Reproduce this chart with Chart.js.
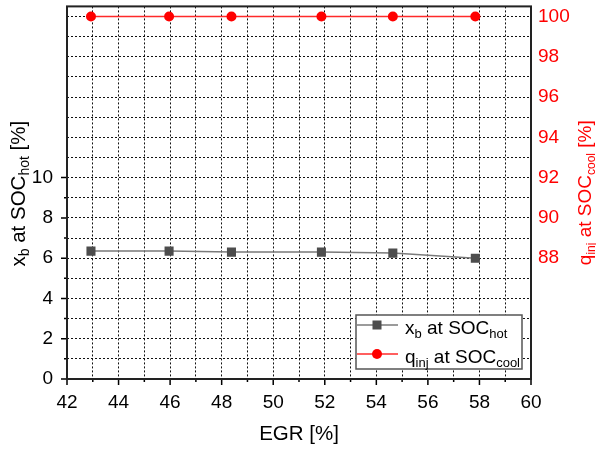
<!DOCTYPE html>
<html>
<head>
<meta charset="utf-8">
<script src="https://cdn.jsdelivr.net/npm/chart.js@4.4.0/dist/chart.umd.min.js"></script>
<style>
  html, body { margin: 0; padding: 0; background: #fff; }
</style>
</head>
<body>
<canvas id="chart" width="596" height="452"></canvas>
<script>
// EGR sweep
const egr = [42.93, 45.96, 48.38, 51.87, 54.64, 57.84];
const xbHot = [6.35, 6.35, 6.3, 6.3, 6.25, 6.0];
const qinjCool = [100, 100, 100, 100, 100, 100];

const xTickLabels = [42, 44, 46, 48, 50, 52, 54, 56, 58, 60];
const leftTickLabels = [0, 2, 4, 6, 8, 10];
const rightTickLabels = [88, 90, 92, 94, 96, 98, 100];

const sans = '"Liberation Sans", Arial, sans-serif';
const RED = '#ff0000';

// text with subscripts: [{t, sub}]
function richWidth(ctx, parts, size, subSize) {
  let w = 0;
  parts.forEach(p => {
    ctx.font = (p.sub ? subSize : size) + 'px ' + sans;
    w += ctx.measureText(p.t).width;
  });
  return w;
}
function drawRich(ctx, parts, x, y, size, subSize) {
  parts.forEach(p => {
    ctx.font = (p.sub ? subSize : size) + 'px ' + sans;
    ctx.fillText(p.t, x, p.sub ? y + 4 : y);
    x += ctx.measureText(p.t).width;
  });
}

const leftTitle = [{t: 'x'}, {t: 'b', sub: true}, {t: ' at SOC'}, {t: 'hot', sub: true}, {t: ' [%]'}];
const rightTitle = [{t: 'q'}, {t: 'inj', sub: true}, {t: ' at SOC'}, {t: 'cool', sub: true}, {t: ' [%]'}];
const legendRows = [
  [{t: 'x'}, {t: 'b', sub: true}, {t: ' at SOC'}, {t: 'hot', sub: true}],
  [{t: 'q'}, {t: 'inj', sub: true}, {t: ' at SOC'}, {t: 'cool', sub: true}]
];

// fixed axis box, no extra label padding
const fixBox = (w, h) => s => {
  if (w !== null) s.width = w;
  if (h !== null) s.height = h;
  s.paddingTop = 0; s.paddingBottom = 0; s.paddingLeft = 0; s.paddingRight = 0;
};

const decorations = {
  id: 'decorations',
  afterDraw(chart) {
    const ctx = chart.ctx;
    const a = chart.chartArea;
    const sx = chart.scales.x, sy = chart.scales.y;
    ctx.save();

    // tick marks
    ctx.strokeStyle = '#000';
    ctx.lineWidth = 1.5;
    ctx.beginPath();
    for (let v = 42; v <= 60; v++) {
      const px = sx.getPixelForValue(v);
      ctx.moveTo(px, a.bottom);
      ctx.lineTo(px, a.bottom + (v % 2 === 0 ? 6 : 3));
    }
    for (let v = 0; v <= 10; v++) {
      const py = sy.getPixelForValue(v);
      ctx.moveTo(a.left, py);
      ctx.lineTo(a.left - (v % 2 === 0 ? 6 : 3), py);
    }
    ctx.stroke();

    // frame
    ctx.strokeStyle = '#222';
    ctx.lineWidth = 2;
    ctx.strokeRect(a.left, a.top, a.right - a.left, a.bottom - a.top);

    // axis titles
    ctx.textBaseline = 'alphabetic';
    ctx.textAlign = 'left';
    const midY = (a.top + a.bottom) / 2;

    ctx.fillStyle = '#000';
    ctx.save();
    ctx.translate(25, midY + 1);
    ctx.rotate(-Math.PI / 2);
    drawRich(ctx, leftTitle, -richWidth(ctx, leftTitle, 20.5, 14) / 2, 0, 20.5, 14);
    ctx.restore();

    ctx.fillStyle = RED;
    ctx.save();
    ctx.translate(591, midY);
    ctx.rotate(-Math.PI / 2);
    drawRich(ctx, rightTitle, -richWidth(ctx, rightTitle, 19, 12) / 2, 0, 19, 12);
    ctx.restore();

    ctx.fillStyle = '#000';
    ctx.font = '20.5px ' + sans;
    ctx.textAlign = 'center';
    ctx.fillText('EGR [%]', (a.left + a.right) / 2, 440);
    ctx.textAlign = 'left';

    // legend
    const lx = 356, ly = 315, lw = 166, lh = 54;
    ctx.fillStyle = '#fff';
    ctx.fillRect(lx, ly, lw, lh);
    ctx.strokeStyle = '#555';
    ctx.lineWidth = 1.5;
    ctx.strokeRect(lx, ly, lw, lh);
    chart.data.datasets.forEach((ds, i) => {
      const cy = ly + 10 + i * 29;
      ctx.strokeStyle = ds.borderColor;
      ctx.lineWidth = ds.borderWidth;
      ctx.beginPath();
      ctx.moveTo(lx + 1, cy);
      ctx.lineTo(lx + 42, cy);
      ctx.stroke();
      ctx.fillStyle = ds.pointBackgroundColor;
      if (ds.pointStyle === 'rect') {
        ctx.fillRect(lx + 21 - 4.5, cy - 4.5, 9, 9);
      } else {
        ctx.beginPath();
        ctx.arc(lx + 21, cy, 5, 0, Math.PI * 2);
        ctx.fill();
      }
      ctx.fillStyle = '#000';
      drawRich(ctx, legendRows[i], lx + 49, cy + 8.5, 19, 13);
    });

    ctx.restore();
  }
};

const gridDash = { display: false, dash: [2, 2] };
const tickFont = { family: sans, size: 19 };

new Chart(document.getElementById('chart'), {
  type: 'line',
  data: {
    datasets: [
      {
        label: 'xb at SOChot',
        data: egr.map((x, i) => ({ x: x, y: xbHot[i] })),
        yAxisID: 'y',
        borderColor: '#7a7a7a',
        borderWidth: 1.5,
        pointStyle: 'rect',
        pointRadius: 6.4,
        pointBackgroundColor: '#4d4d4d',
        pointBorderColor: '#4d4d4d',
        pointBorderWidth: 0
      },
      {
        label: 'qinj at SOCcool',
        data: egr.map((x, i) => ({ x: x, y: qinjCool[i] })),
        yAxisID: 'y1',
        borderColor: '#ff2a2a',
        borderWidth: 1.5,
        pointStyle: 'circle',
        pointRadius: 5,
        pointBackgroundColor: RED,
        pointBorderColor: RED,
        pointBorderWidth: 0
      }
    ]
  },
  options: {
    responsive: false,
    animation: false,
    events: [],
    layout: { padding: { top: 5, left: 0, right: 0, bottom: 0 } },
    plugins: { legend: { display: false }, tooltip: { enabled: false } },
    scales: {
      x: {
        type: 'linear',
        min: 42,
        max: 60,
        afterFit: fixBox(null, 73),
        grid: { color: '#111', lineWidth: 1, drawTicks: false },
        border: gridDash,
        ticks: {
          stepSize: 1,
          autoSkip: false,
          maxRotation: 0,
          padding: 12,
          color: '#000',
          font: tickFont,
          callback: v => xTickLabels.includes(v) ? String(v) : ''
        }
      },
      y: {
        position: 'left',
        min: 0,
        max: 18.5,
        afterFit: fixBox(67, null),
        grid: { color: '#111', lineWidth: 1, drawTicks: false },
        border: gridDash,
        ticks: {
          stepSize: 1,
          autoSkip: false,
          includeBounds: false,
          padding: 14,
          color: '#000',
          font: tickFont,
          callback: v => leftTickLabels.includes(v) ? String(v) : ''
        }
      },
      y1: {
        position: 'right',
        min: 82,
        max: 100.5,
        afterFit: fixBox(65, null),
        grid: { drawOnChartArea: false, drawTicks: false },
        border: { display: false },
        ticks: {
          stepSize: 1,
          autoSkip: false,
          includeBounds: false,
          padding: 7,
          color: RED,
          font: tickFont,
          callback: v => rightTickLabels.includes(v) ? String(v) : ''
        }
      }
    }
  },
  plugins: [decorations]
});
</script>
</body>
</html>
